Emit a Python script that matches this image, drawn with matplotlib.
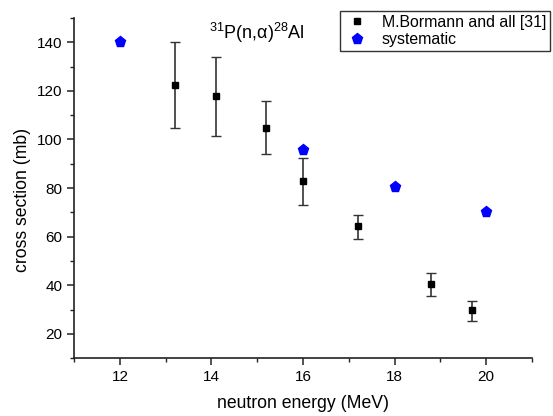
import numpy as np
import matplotlib
matplotlib.use('Agg')
import matplotlib.pyplot as plt
from matplotlib.ticker import MultipleLocator
from matplotlib.lines import Line2D

plt.rcParams['font.family'] = ['Liberation Sans', 'DejaVu Sans']
plt.rcParams['mathtext.fontset'] = 'custom'
plt.rcParams['mathtext.rm'] = 'Liberation Sans'

# measured data (Bormann et al.)
exp_energy = [13.2, 14.1, 15.2, 16.0, 17.2, 18.8, 19.7]
exp_xs = [122.4, 117.8, 104.8, 82.7, 64.2, 40.5, 29.8]
exp_err_low = [17.5, 16.2, 11.0, 9.5, 5.1, 4.8, 4.3]
exp_err_high = [17.6, 16.1, 11.0, 9.7, 4.9, 4.4, 3.8]

# systematics
sys_energy = [12, 16, 18, 20]
sys_xs = [140.0, 95.5, 80.6, 70.2]

fig = plt.figure(figsize=(5.53, 4.16), dpi=100)
ax = fig.add_axes([0.134, 0.139, 0.828, 0.818])

ax.errorbar(exp_energy, exp_xs, yerr=[exp_err_low, exp_err_high],
            fmt='s', color='black', ms=4, ecolor='#333333', elinewidth=1.2,
            capsize=3.5, capthick=1.0)
ax.plot(sys_energy, sys_xs, 'p', color='blue', ms=8, linestyle='none')

ax.set_xlim(11, 21)
ax.set_ylim(10, 150)
ax.xaxis.set_major_locator(MultipleLocator(2))
ax.xaxis.set_minor_locator(MultipleLocator(1))
ax.yaxis.set_minor_locator(MultipleLocator(10))
ax.set_yticks([20, 40, 60, 80, 100, 120, 140])

for s in ['top', 'right']:
    ax.spines[s].set_visible(False)
for s in ['left', 'bottom']:
    ax.spines[s].set_linewidth(1.2)
    ax.spines[s].set_color('#222222')

ax.tick_params(which='major', direction='out', length=5, width=1.1,
               labelsize=11, color='#222222')
ax.tick_params(which='minor', direction='out', length=3, width=1.0,
               color='#222222')

ax.set_xlabel('neutron energy (MeV)', fontsize=12.7, labelpad=8)
ax.set_ylabel('cross section (mb)', fontsize=12.7)
ax.yaxis.set_label_coords(-0.095, 0.465)

ax.text(0.40, 0.955, r'$^{31}$P(n,α)$^{28}$Al', transform=ax.transAxes,
        fontsize=13, ha='center', va='center')

handles = [
    Line2D([], [], marker='s', color='black', ms=4, linestyle='none'),
    Line2D([], [], marker='p', color='blue', ms=8, linestyle='none'),
]
labels = ['M.Bormann and all [31]', 'systematic']
leg = fig.legend(handles, labels, loc='upper right',
                 bbox_to_anchor=(0.995, 0.974),
                 fontsize=11.4, frameon=True, fancybox=False,
                 borderpad=0.25, labelspacing=0.15, handletextpad=0.8,
                 handlelength=1.6, borderaxespad=0)
leg.get_frame().set_edgecolor('black')
leg.get_frame().set_linewidth(1.0)

fig.savefig('out.png', dpi=100)
